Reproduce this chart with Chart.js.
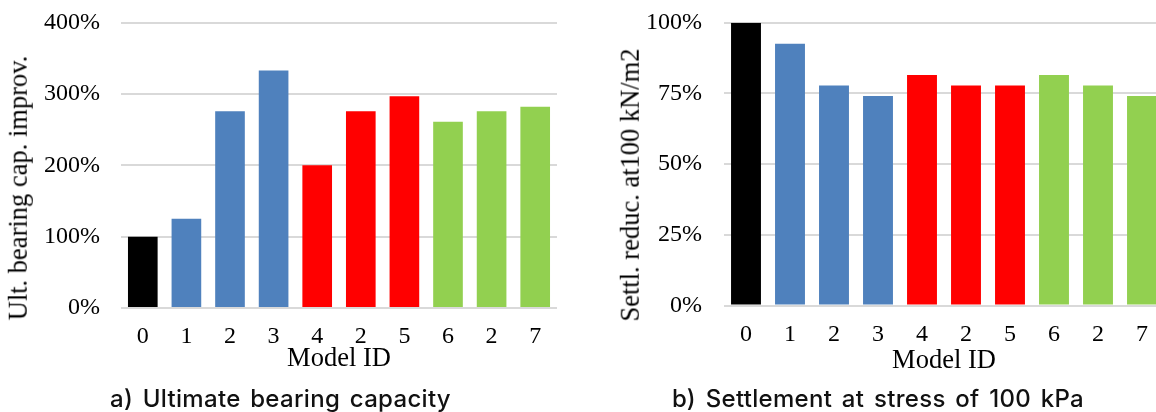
<!DOCTYPE html>
<html>
<head>
<meta charset="utf-8">
<script src="https://cdn.jsdelivr.net/npm/chart.js@4"></script>
<style>
  html, body { margin: 0; padding: 0; background: #fff; overflow: hidden; width: 1156px; height: 412px; }
  canvas { position: absolute; top: 0; }
  #cA { left: 0; }
  #cB { left: 578px; }
  .ytitle {
    position: absolute; white-space: nowrap;
    font-family: 'Liberation Serif', 'Times New Roman', serif;
    font-size: 26.5px; line-height: 1; color: #000;
    transform: translate(-50%, -50%) rotate(-90deg);
  }
  .caption {
    position: absolute; white-space: nowrap;
    font-family: Inter, 'Noto Sans', sans-serif; font-weight: 500;
    font-size: 24px; letter-spacing: 0.3px; word-spacing: 3px; line-height: 1; color: #111;
  }
</style>
</head>
<body>
<canvas id="cA" width="578" height="412"></canvas>
<canvas id="cB" width="586" height="412"></canvas>
<div class="ytitle" style="left:18px; top:188px;">Ult. bearing cap. improv.</div>
<div class="ytitle" style="left:630px; top:185px;">Settl. reduc. at100 kN/m2</div>
<div class="caption" style="left:110px; top:387px;">a) Ultimate bearing capacity</div>
<div class="caption" style="left:672px; top:387px;">b) Settlement at stress of 100 kPa</div>
<script>
// Model IDs along the x axis (same for both panels)
const modelIds = ['0', '1', '2', '3', '4', '2', '5', '6', '2', '7'];

// Bar colours by model group: reference, blue group, red group, green group
const barColors = ['#000000', '#4f81bd', '#4f81bd', '#4f81bd',
                   '#ff0000', '#ff0000', '#ff0000',
                   '#92d050', '#92d050', '#92d050'];

// a) ultimate bearing capacity improvement, %
const bearingImprov = [100, 125, 276, 333, 200, 276, 297, 261, 276, 282];

// b) settlement reduction at 100 kN/m2, %
const settlReduc = [100, 92.6, 77.8, 74.1, 81.5, 77.8, 77.8, 81.5, 77.8, 74.1];

// y-axis tick ranges
const bearingTicks = { max: 400, step: 100 };
const settlTicks = { max: 100, step: 25 };

const serif = "'Liberation Serif', 'Times New Roman', serif";

function makeChart(id, values, ticks, geo) {
  return new Chart(document.getElementById(id), {
    type: 'bar',
    data: {
      labels: modelIds,
      datasets: [{
        data: values,
        backgroundColor: barColors,
        borderWidth: 0,
        barPercentage: 0.68,
        categoryPercentage: 1.0
      }]
    },
    options: {
      responsive: false,
      animation: false,
      devicePixelRatio: 1,
      layout: { padding: { top: geo.padTop, right: geo.padRight, bottom: 0, left: 0 } },
      plugins: { legend: { display: false }, tooltip: { enabled: false } },
      scales: {
        x: {
          grid: { display: false, drawTicks: false },
          border: { display: false },
          ticks: { color: '#000', font: { family: serif, size: 24 }, padding: geo.xTickPad, maxRotation: 0, autoSkip: false },
          title: { display: true, text: 'Model ID', color: '#000',
                   font: { family: serif, size: 26.5 }, padding: { top: 0, bottom: geo.xTitlePad } },
          afterFit: (s) => { s.height = geo.xHeight; }
        },
        y: {
          min: 0, max: ticks.max,
          grid: { color: '#d9d9d9', lineWidth: 2, drawTicks: false },
          border: { display: false },
          ticks: { stepSize: ticks.step, color: '#000', font: { family: serif, size: 24 },
                   padding: geo.yTickPad, callback: (v) => v + '%' },
          // fixed axis width; the top label may sit in the layout padding
          afterFit: (s) => { s.width = geo.yWidth; s.paddingTop = 0; s.paddingBottom = 0; }
        }
      }
    }
  });
}

makeChart('cA', bearingImprov, bearingTicks,
  { padTop: 22.7, padRight: 21, yWidth: 121, xHeight: 104, xTickPad: 14, xTitlePad: 36.7, yTickPad: 21 });
makeChart('cB', settlReduc, settlTicks,
  { padTop: 22.7, padRight: 0, yWidth: 146, xHeight: 106.5, xTickPad: 15, xTitlePad: 35, yTickPad: 22 });
</script>
</body>
</html>
